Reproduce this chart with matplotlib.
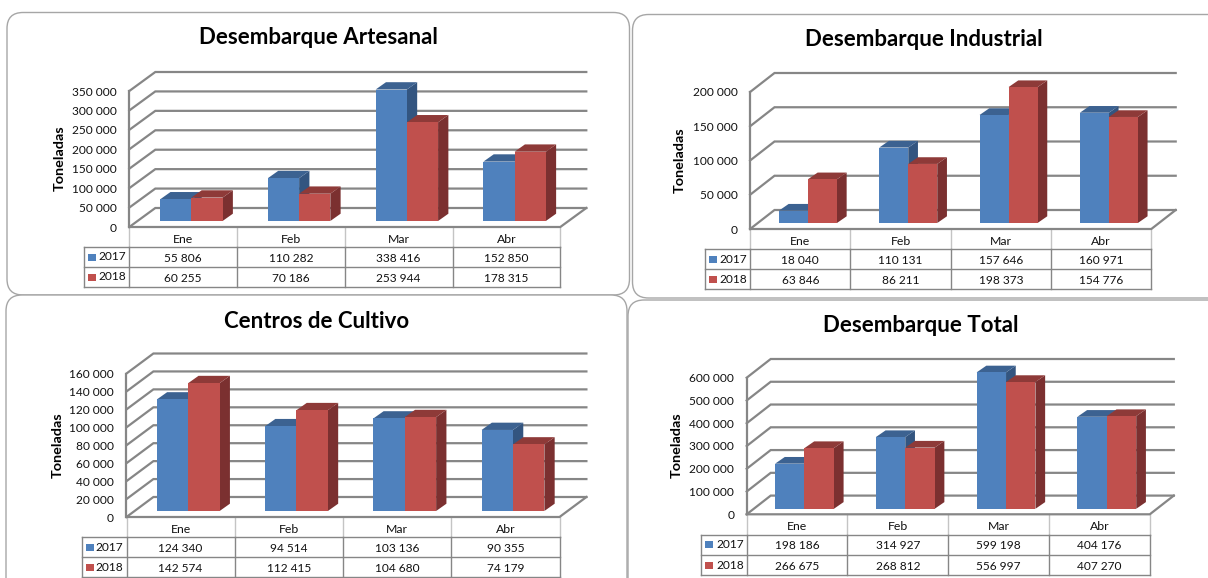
import matplotlib
matplotlib.use('Agg')
import matplotlib.pyplot as plt
from matplotlib.patches import FancyBboxPatch, Rectangle

plt.rcParams['font.family'] = ['Lato', 'DejaVu Sans']

# ----------- DATA -----------------#
months = ['Ene', 'Feb', 'Mar', 'Abr']
years = ['2017', '2018']

titles = ['Desembarque Artesanal', 'Desembarque Industrial', 'Centros de Cultivo', 'Desembarque Total']

artesanal_2017 = [55806, 110282, 338416, 152850]
artesanal_2018 = [60255, 70186, 253944, 178315]
industrial_2017 = [18040, 110131, 157646, 160971]
industrial_2018 = [63846, 86211, 198373, 154776]
cultivo_2017 = [124340, 94514, 103136, 90355]
cultivo_2018 = [142574, 112415, 104680, 74179]
total_2017 = [198186, 314927, 599198, 404176]
total_2018 = [266675, 268812, 556997, 407270]

artesanal_ticks = [0, 50000, 100000, 150000, 200000, 250000, 300000, 350000]
industrial_ticks = [0, 50000, 100000, 150000, 200000]
cultivo_ticks = [0, 20000, 40000, 60000, 80000, 100000, 120000, 140000, 160000]
total_ticks = [0, 100000, 200000, 300000, 400000, 500000, 600000]

series_2017 = [artesanal_2017, industrial_2017, cultivo_2017, total_2017]
series_2018 = [artesanal_2018, industrial_2018, cultivo_2018, total_2018]
all_ticks = [artesanal_ticks, industrial_ticks, cultivo_ticks, total_ticks]

# ----------- LAYOUT (pixels) -----------------#
W, H = 1208, 578
# left, right, baseline, top of the value axis, left of the table, bottom of the table
plots = [(129.3, 560.3, 227, 91, 84.2, 287),
         (750.1, 1151.3, 229, 92, 705.1, 289.3),
         (126.5, 559.5, 517, 373.5, 81.5, 577.3),
         (746.7, 1149.8, 514.3, 377.7, 701, 575.3)]
# left, top, right, bottom of the rounded frames
frames = [(7, 12.5, 629.5, 295), (632.5, 14.5, 1240, 298), (6, 295, 627, 600), (628, 300, 1240, 600)]
title_pos = [(318.7, 38), (923.7, 40), (316.3, 321.5), (921, 326)]
ylabel_pos = [(59.7, 158), (680, 160), (57.3, 445), (677, 445.5)]
wall = [(26, 19), (24.4, 19), (26.9, 20), (24, 18.7)]  # depth of the floor
bar_size = [31.2, 29, 31.4, 29.4]
bar_shift = [(8.2, 6), (7.7, 6), (7.6, 6), (7.4, 5.5)]  # bars stand this far back on the floor
bar_depth = [(10.3, 7.3), (9.7, 6.7), (10.3, 7.3), (9.7, 6.7)]

grid_col = '#868686'
front = ['#4F81BD', '#C0504D']
top = ['#3C6291', '#8E3A38']
side = ['#335580', '#7B3030']

fig = plt.figure(figsize=(W / 100, H / 100), dpi=100)
bg = fig.add_axes([0, 0, 1, 1])
bg.set_xlim(0, W)
bg.set_ylim(H, 0)
bg.axis('off')

for (l, t, r, b) in frames:
    bg.add_patch(FancyBboxPatch((l + 16, t + 16), r - l - 32, b - t - 32,
                                boxstyle='round,pad=16,rounding_size=16',
                                fc='white', ec='#A6A6A6', lw=1.0))

for i in range(4):
    x0, x1, y0, y1, tab_l, tab_b = plots[i]
    ticks = all_ticks[i]
    ymax = ticks[-1]
    ax = fig.add_axes([x0 / W, 1 - y0 / H, (x1 - x0) / W, (y0 - y1) / H])
    ax.set_xlim(0, 4)
    ax.set_ylim(0, ymax)
    ax.patch.set_alpha(0)
    for s in ax.spines.values():
        s.set_visible(False)

    # pixel distances into axis units
    ux = 4 / (x1 - x0)
    uy = ymax / (y0 - y1)
    wdx, wdy = wall[i][0] * ux, wall[i][1] * uy

    # back wall, floor and gridlines
    for t_val in ticks:
        ax.plot([0, wdx, 4 + wdx], [t_val, t_val + wdy, t_val + wdy], color=grid_col,
                lw=1.6, clip_on=False, zorder=1, solid_joinstyle='miter')
    ax.plot([0, 0], [0, ymax], color=grid_col, lw=1.6, clip_on=False, zorder=2)
    ax.plot([0, 4, 4 + wdx], [0, 0, wdy], color=grid_col, lw=1.6, clip_on=False, zorder=2)

    # bars, back to front so that each one covers the side of its neighbour
    bw = bar_size[i] * ux
    sx, sy = bar_shift[i][0] * ux, bar_shift[i][1] * uy
    dx, dy = bar_depth[i][0] * ux, bar_depth[i][1] * uy
    for m in range(4):
        for k, vals in enumerate([series_2017[i], series_2018[i]]):
            left = m + 0.5 + sx - bw + k * bw
            v = vals[m] + sy
            z = 3 + m + k * 0.1
            ax.fill([left + bw, left + bw + dx, left + bw + dx, left + bw],
                    [sy, sy + dy, v + dy, v], color=side[k], lw=0, clip_on=False, zorder=z)
            ax.fill([left, left + dx, left + bw + dx, left + bw],
                    [v, v + dy, v + dy, v], color=top[k], lw=0, clip_on=False, zorder=z)
            ax.bar(left, vals[m], bw, bottom=sy, align='edge', color=front[k], lw=0,
                   clip_on=False, zorder=z + 0.01)

    ax.set_xticks([])
    ax.set_yticks(ticks)
    ax.set_yticklabels([f'{t_val:,}'.replace(',', ' ') for t_val in ticks], fontsize=8.6, color='#111111')
    ax.tick_params(axis='y', length=0, pad=9)

    # data table under the plot
    cw = (x1 - x0) / 4
    rh = (tab_b - y0) / 3
    for c in range(5):
        bg.plot([x0 + c * cw] * 2, [y0, y0 + rh], color='#C4C4C4', lw=1.0, zorder=5)
        bg.plot([x0 + c * cw] * 2, [y0 + rh, tab_b], color=grid_col, lw=1.0, zorder=5)
    bg.plot([tab_l, tab_l], [y0 + rh, tab_b], color=grid_col, lw=1.0, zorder=5)
    for r in range(1, 4):
        bg.plot([tab_l, x1], [y0 + r * rh] * 2, color=grid_col, lw=1.0, zorder=5)
    for c in range(4):
        bg.text(x0 + (c + 0.5) * cw, y0 + 0.5 * rh + 2.5, months[c], fontsize=8.8, ha='center', va='center',
                color='#111111', zorder=6)
    for r, vals in enumerate([series_2017[i], series_2018[i]]):
        yc = y0 + (r + 1.5) * rh
        bg.add_patch(Rectangle((tab_l + 4, yc - 3.5), 8, 7, fc=front[r], lw=0, zorder=6))
        bg.text(x0 - 3, yc, years[r], fontsize=8.6, ha='right', va='center', color='#111111', zorder=6)
        for c in range(4):
            txt = f'{vals[c]:,}'.replace(',', ' ')
            bg.text(x0 + (c + 0.5) * cw, yc + 1, txt, fontsize=8.6, ha='center', va='center',
                    color='#111111', zorder=6)

    bg.text(title_pos[i][0], title_pos[i][1], titles[i], fontsize=16, fontweight='bold',
            ha='center', va='center', color='black', zorder=10)
    bg.text(ylabel_pos[i][0], ylabel_pos[i][1], 'Toneladas', fontsize=10.4, fontweight='bold',
            rotation=90, ha='center', va='center', color='black', zorder=10)

fig.savefig('out.png', dpi=100)
